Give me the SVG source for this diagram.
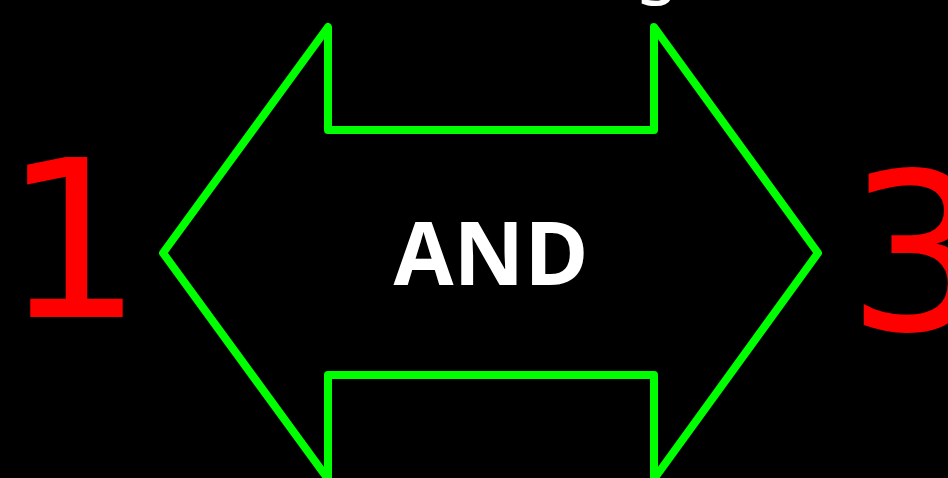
<svg xmlns="http://www.w3.org/2000/svg" width="948" height="478" viewBox="0 0 948 478">
<style>
.arrow{fill:none;stroke:#00ff00;stroke-width:8;stroke-linejoin:round}
.num{fill:#ff0000;font-family:"DejaVu Sans",sans-serif;font-size:220px}
.lbl{fill:#ffffff;font-family:"Open Sans","Noto Sans",sans-serif;font-weight:bold;font-size:87px}
.top{fill:#ffffff;font-family:"Noto Sans",sans-serif;font-size:72px}
</style>
<rect width="948" height="478" fill="#000000"/>
<g id="top-text"><text class="top" x="657" y="-11" text-anchor="middle">g</text></g>
<g id="and-node">
<polygon class="arrow" points="163,253 328,27 328,130 654,130 654,27 818,253 654,479 654,375 328,375 328,479"/>
<text class="lbl" x="491" y="285" text-anchor="middle">AND</text>
</g>
<g id="n1"><text class="num" x="73" y="317" text-anchor="middle">1</text></g>
<g id="n3"><text class="num" x="847" y="330">3</text></g>
<g id="connectors"></g>
</svg>
